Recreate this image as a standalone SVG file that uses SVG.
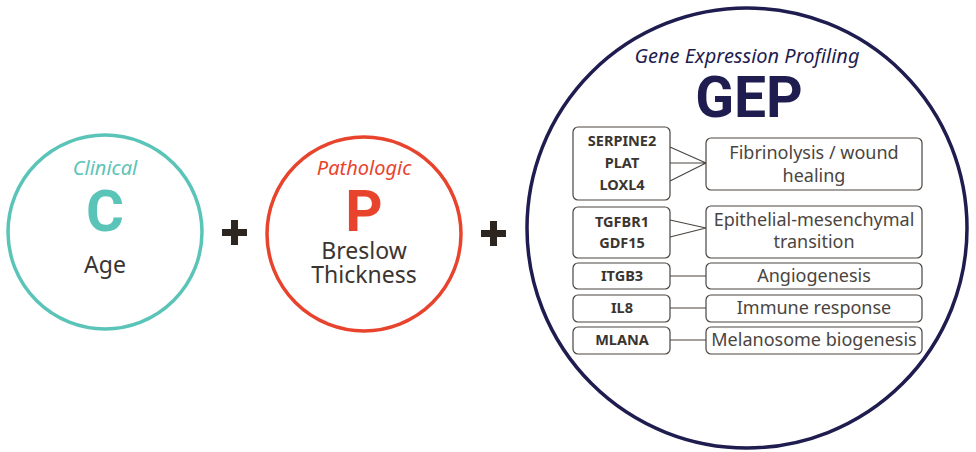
<svg xmlns="http://www.w3.org/2000/svg" width="976" height="452" viewBox="0 0 976 452">
<style>
.ring{fill:#fff;stroke-width:3.5}
.sub{font-family:"Noto Sans",sans-serif;font-style:italic;font-size:20px;text-anchor:middle}
.big{font-family:Roboto,"Liberation Sans",sans-serif;font-weight:bold;text-anchor:middle}
.lab{font-family:"Noto Sans",sans-serif;font-size:23px;fill:#3b3531;text-anchor:middle}
.box{fill:#fff;stroke:#4a4541;stroke-width:1.2}
.gene{font-family:"Noto Sans",sans-serif;font-weight:bold;font-size:14.5px;fill:#3b3531;text-anchor:middle}
.fn{font-family:"Noto Sans",sans-serif;font-size:18px;fill:#4a4541;text-anchor:middle}
.plus{fill:#2d2620}
.conn{stroke:#4a4541;stroke-width:1.2;fill:none}
</style>
<rect width="976" height="452" fill="#fff"/>
<g id="node-clinical">
<circle class="ring" cx="105" cy="232" r="97" stroke="#5bc4b8"/>
<text class="sub" x="105" y="175" fill="#5bc4b8">Clinical</text>
<text class="big" x="105" y="231" font-size="58" fill="#5bc4b8">C</text>
<text class="lab" x="105" y="273">Age</text>
</g>
<g id="plus1" class="plus"><rect x="222" y="229" width="25" height="7"/><rect x="231" y="220" width="7" height="25"/></g>
<g id="node-pathologic">
<circle class="ring" cx="364" cy="234" r="97" stroke="#e8432d"/>
<text class="sub" x="364" y="175" fill="#e8432d">Pathologic</text>
<text class="big" x="364" y="231" font-size="58" fill="#e8432d">P</text>
<text class="lab" x="364" y="259">Breslow</text>
<text class="lab" x="364" y="283">Thickness</text>
</g>
<g id="plus2" class="plus"><rect x="481" y="230" width="25" height="7"/><rect x="490" y="221" width="7" height="25"/></g>
<g id="node-gep">
<circle class="ring" cx="747" cy="228" r="220" stroke="#1f1c4f" stroke-width="3"/>
<text class="sub" x="747" y="63" fill="#1f1c4f" font-size="20.5">Gene Expression Profiling</text>
<text class="big" x="749" y="117" font-size="57" fill="#1f1c4f">GEP</text>
</g>
<g id="connectors">
<path class="conn" d="M670 147 L706 163 M670 163 L706 163 M670 181 L706 163"/>
<path class="conn" d="M670 220 L706 228 M670 237 L706 228"/>
<path class="conn" d="M670 276 H706 M670 308 H706 M670 340 H706"/>
</g>
<g id="genes1"><rect class="box" x="573" y="127" width="97" height="73" rx="5"/>
<text class="gene" x="622" y="146">SERPINE2</text><text class="gene" x="622" y="168">PLAT</text><text class="gene" x="622" y="190">LOXL4</text></g>
<g id="genes2"><rect class="box" x="573" y="207" width="97" height="51" rx="5"/>
<text class="gene" x="622" y="227">TGFBR1</text><text class="gene" x="622" y="248">GDF15</text></g>
<g id="genes3"><rect class="box" x="573" y="263" width="97" height="26" rx="5"/><text class="gene" x="622" y="281">ITGB3</text></g>
<g id="genes4"><rect class="box" x="573" y="295" width="97" height="27" rx="5"/><text class="gene" x="622" y="313">IL8</text></g>
<g id="genes5"><rect class="box" x="573" y="327" width="97" height="27" rx="5"/><text class="gene" x="622" y="345">MLANA</text></g>
<g id="fn1"><rect class="box" x="706" y="138" width="216" height="52" rx="5"/>
<text class="fn" x="814" y="159">Fibrinolysis / wound</text><text class="fn" x="814" y="182">healing</text></g>
<g id="fn2"><rect class="box" x="706" y="206" width="216" height="52" rx="5"/>
<text class="fn" x="814" y="226">Epithelial-mesenchymal</text><text class="fn" x="814" y="248">transition</text></g>
<g id="fn3"><rect class="box" x="706" y="263" width="216" height="26" rx="5"/><text class="fn" x="814" y="282">Angiogenesis</text></g>
<g id="fn4"><rect class="box" x="706" y="295" width="216" height="27" rx="5"/><text class="fn" x="814" y="314">Immune response</text></g>
<g id="fn5"><rect class="box" x="706" y="327" width="216" height="27" rx="5"/><text class="fn" x="814" y="346">Melanosome biogenesis</text></g>
</svg>
